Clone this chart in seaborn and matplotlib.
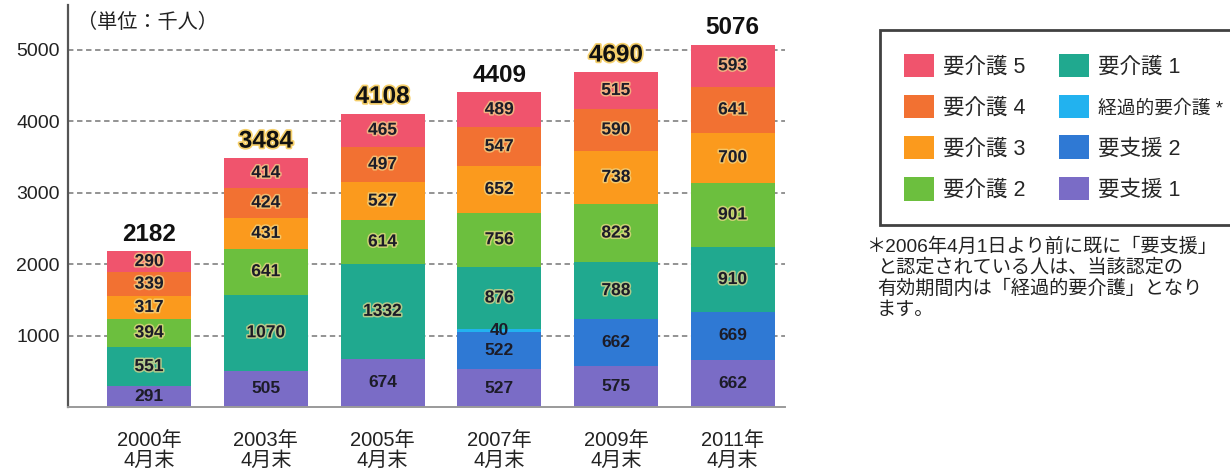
import numpy as np
import pandas as pd
import matplotlib
matplotlib.use("Agg")
import matplotlib.pyplot as plt
import matplotlib.patheffects as pe
from matplotlib.patches import Patch
import seaborn as sns

# 要介護（要支援）認定者数の推移（単位：千人）
years = ["2000年\n4月末", "2003年\n4月末", "2005年\n4月末",
         "2007年\n4月末", "2009年\n4月末", "2011年\n4月末"]

# stacked from bottom to top
levels = ["要支援1", "要支援2", "経過的要介護＊", "要介護1",
          "要介護2", "要介護3", "要介護4", "要介護5"]
shien1 = [291, 505, 674, 527, 575, 662]
shien2 = [0, 0, 0, 522, 662, 669]
keika = [0, 0, 0, 40, 0, 0]
kaigo1 = [551, 1070, 1332, 876, 788, 910]
kaigo2 = [394, 641, 614, 756, 823, 901]
kaigo3 = [317, 431, 527, 652, 738, 700]
kaigo4 = [339, 424, 497, 547, 590, 641]
kaigo5 = [290, 414, 465, 489, 515, 593]
totals = [2182, 3484, 4108, 4409, 4690, 5076]

colors = ["#7a6cc6", "#2f79d4", "#22b2ef", "#20a98f",
          "#6cbf3e", "#fb9a1d", "#f27132", "#f0546d"]
legend_names = ["要介護 5", "要介護 4", "要介護 3", "要介護 2",
                "要介護 1", "経過的要介護 *", "要支援 2", "要支援 1"]

sns.set_style("white")
plt.rcParams["font.family"] = ["Liberation Sans", "Noto Sans CJK JP", "DejaVu Sans"]

fig = plt.figure(figsize=(12.3, 4.68), dpi=100)
ax = fig.add_axes([0.0553, 0.1303, 0.583, 0.859])

series = [shien1, shien2, keika, kaigo1, kaigo2, kaigo3, kaigo4, kaigo5]
bottom = np.zeros(len(years))
for name, vals, col in zip(levels, series, colors):
    df = pd.DataFrame({"year": years, "value": vals})
    sns.barplot(data=df, x="year", y="value", order=years, color=col,
                width=0.72, bottom=bottom, ax=ax, zorder=2, saturation=1,
                edgecolor="none", linewidth=0)
    # segment labels
    glow = name.startswith("要介護")
    for i, v in enumerate(vals):
        if v == 0:
            continue
        t = ax.text(i, bottom[i] + v / 2, str(v), ha="center", va="center",
                    fontsize=12.5, fontweight="bold", color="#1c1c28", zorder=4)
        if glow:
            t.set_path_effects([pe.withStroke(linewidth=2.2, foreground="#f2d98a", alpha=0.7)])
    bottom = bottom + np.array(vals)

# totals on top
glow_tot = [False, True, True, False, True, False]
for i, tot in enumerate(totals):
    t = ax.annotate(str(tot), (i, bottom[i]), xytext=(0, 4), textcoords="offset points",
                    ha="center", va="bottom", fontsize=17.5, fontweight="bold",
                    color="#111111", zorder=5)
    if glow_tot[i]:
        t.set_path_effects([pe.withStroke(linewidth=2.5, foreground="#f5cf6a")])

ax.set_xlim(-0.695, 5.45)
ax.set_ylim(0, 5630)
ax.set_yticks([1000, 2000, 3000, 4000, 5000])
ax.yaxis.grid(True, linestyle=(0, (3, 2)), color="#8a8a8a", linewidth=1.3, zorder=0)
ax.xaxis.grid(False)
ax.set_axisbelow(True)
ax.set_xlabel("")
ax.set_ylabel("")
ax.tick_params(axis="y", length=0, pad=6, labelsize=14, labelcolor="#222222")
ax.tick_params(axis="x", length=0, pad=17, labelsize=14.5, labelcolor="#222222")
for lbl in ax.get_xticklabels():
    lbl.set_linespacing(1.1)
sns.despine(ax=ax, top=True, right=True)
ax.spines["left"].set_color("#555555")
ax.spines["left"].set_linewidth(1.6)
ax.spines["bottom"].set_color("#9a9a9a")
ax.spines["bottom"].set_linewidth(1.4)

ax.text(0.012, 0.958, "（単位：千人）", transform=ax.transAxes, ha="left", va="center",
        fontsize=14.5, color="#222222")

# legend
handles = [Patch(facecolor=c, edgecolor="none") for c in
           ["#f0546d", "#f27132", "#fb9a1d", "#6cbf3e",
            "#20a98f", "#22b2ef", "#2f79d4", "#7a6cc6"]]
leg = fig.legend(handles, legend_names, ncol=2, loc="upper left",
                 bbox_to_anchor=(0.7155, 0.936), borderaxespad=0, fontsize=15.5,
                 frameon=True, fancybox=False, edgecolor="#111111",
                 handlelength=1.4, handleheight=1.3, handletextpad=0.42,
                 labelspacing=0.8, columnspacing=1.55, borderpad=1.1)
leg.get_frame().set_linewidth(2)
leg.get_texts()[5].set_fontsize(13.5)

# footnote
notes = ["＊2006年4月1日より前に既に「要支援」",
         "と認定されている人は、当該認定の",
         "有効期間内は「経過的要介護」となり",
         "ます。"]
for k, line in enumerate(notes):
    x0 = 866 if k == 0 else 877
    fig.text(x0 / 1230, 1 - (247 + 21 * k) / 468, line, ha="left", va="center",
             fontsize=13.8, color="#222222")

fig.savefig("out.png", dpi=100)
